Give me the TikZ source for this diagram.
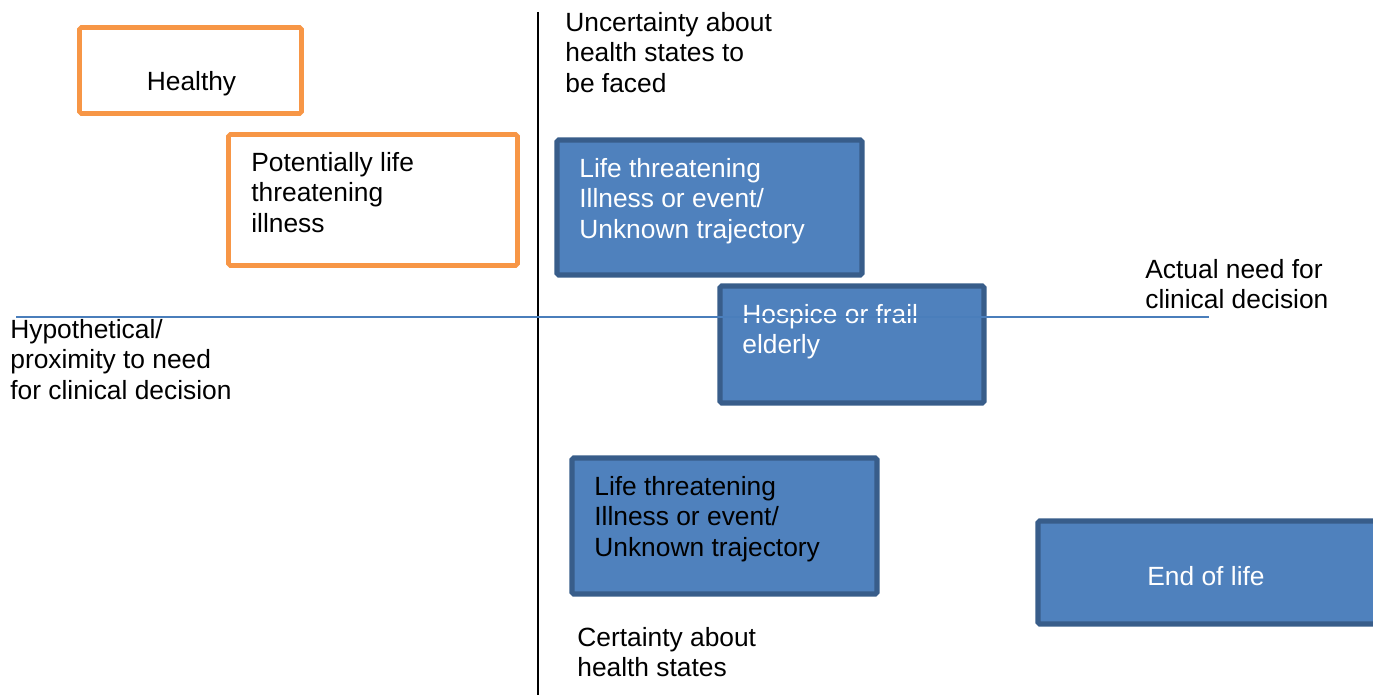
\documentclass[tikz,border=0pt]{standalone}
\usepackage{fontspec}
\setmainfont{Liberation Sans}
\definecolor{boxblue}{HTML}{4F81BD}
\definecolor{edgeblue}{HTML}{385D8A}
\definecolor{boxorange}{HTML}{F79646}
\definecolor{lineblue}{HTML}{4A7EBB}
\begin{document}
\begin{tikzpicture}[x=0.02cm, y=-0.02cm,
    lbl/.style={anchor=north west, inner sep=0pt, align=left,
      font=\fontsize{15pt}{17.3pt}\selectfont},
    orangebox/.style={draw=boxorange, line width=2.6pt, fill=white, rounded corners=1pt},
    bluebox/.style={draw=edgeblue, line width=3pt, fill=boxblue, rounded corners=1pt}]
  \useasboundingbox (0,0) rectangle (1373,695);

  % Orange boxes
  \draw[orangebox] (79.5,27.5) rectangle (301.5,113.5);
  \draw[orangebox] (228.5,134.5) rectangle (517.5,265.5);

  % Blue boxes
  \draw[bluebox] (557,140) rectangle (862,275);
  \draw[bluebox] (720,286) rectangle (984,403);
  \draw[bluebox] (572,458) rectangle (877,594);
  \draw[bluebox] (1038,521) rectangle (1390,624);

  % Box texts
  \node[lbl, anchor=north] (healthy) at (191.5,71) {Healthy};
  \node[lbl] (potential) at (251,152) {Potentially life\\threatening\\illness};
  \node[lbl, text=white] (unknowntop) at (579,158) {Life threatening\\Illness or event/\\Unknown trajectory};
  \node[lbl, text=white] (hospice) at (742,304) {Hospice or frail\\elderly};
  \node[lbl] (unknownlow) at (594,476) {Life threatening\\Illness or event/\\Unknown trajectory};
  \node[lbl, anchor=north, text=white] (endlife) at (1206,566) {End of life};

  % Axis labels
  \node[lbl] (uncertain) at (565,12) {Uncertainty about\\health states to\\be faced};
  \node[lbl] (certain) at (577,627) {Certainty about\\health states};
  \node[lbl] (actual) at (1145,259) {Actual need for\\clinical decision};
  \node[lbl] (hypo) at (10,319) {Hypothetical/\\proximity to need\\for clinical decision};

  % Axes
  \draw[line width=0.9pt] (538,12) -- (538,695);
  \draw[lineblue, line width=1pt] (16,317) -- (1209,317);
\end{tikzpicture}
\end{document}
